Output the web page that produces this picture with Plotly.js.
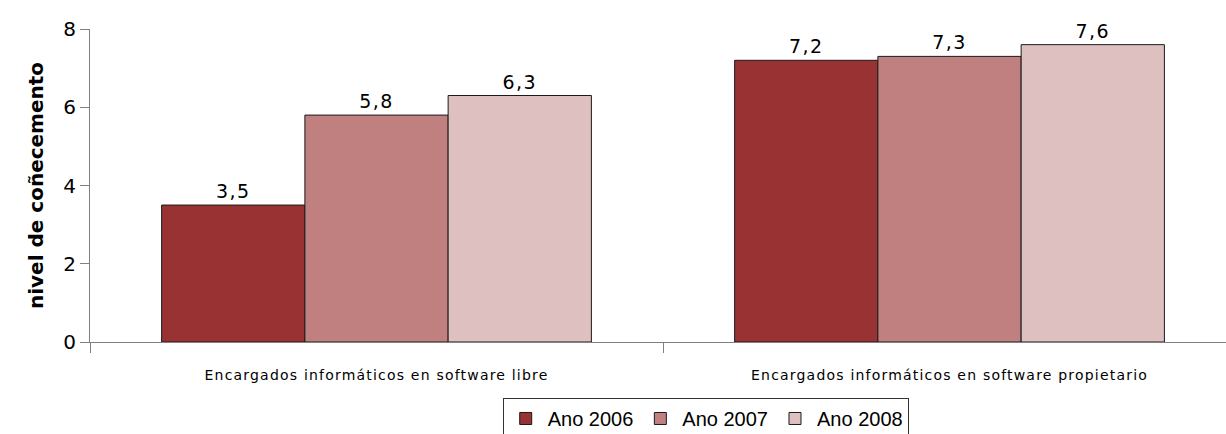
<!DOCTYPE html>
<html>
<head>
<meta charset="utf-8">
<script src="https://cdn.plot.ly/plotly-3.0.1.min.js"></script>
<style>
  body { margin: 0; background: #fff; }
  #chart { width: 1226px; height: 434px; }
  /* the source chart draws its labels with loose letter spacing */
  #chart .xtick text { letter-spacing: 1.2px; }
  #chart .bartext { letter-spacing: 1.5px; }
</style>
</head>
<body>
<div id="chart"></div>
<script>
var categories = ['Encargados informáticos en software libre', 'Encargados informáticos en software propietario'];
var seriesNames = ['Ano 2006', 'Ano 2007', 'Ano 2008'];
var values2006 = [3.5, 7.2];
var values2007 = [5.8, 7.3];
var values2008 = [6.3, 7.6];
var colors = ['#993333', '#C08080', '#DFC0C1'];

var seriesValues = [values2006, values2007, values2008];
var traces = [];
for (var i = 0; i < seriesNames.length; i++) {
    traces.push({
        type: 'bar',
        x: categories,
        y: seriesValues[i],
        name: seriesNames[i],
        marker: { color: colors[i], line: { color: '#1a1a1a', width: 1 } },
        texttemplate: '%{y:.1f}',
        textposition: 'outside',
        cliponaxis: false,
        textfont: { family: 'DejaVu Sans', size: 19, color: '#000' }
    });
}

var layout = {
    width: 1226,
    height: 434,
    separators: ',.',
    barmode: 'group',
    bargap: 0.25,
    bargroupgap: 0,
    margin: { l: 90, r: 0, t: 29, b: 92 },
    paper_bgcolor: '#fff',
    plot_bgcolor: '#fff',
    font: { family: 'DejaVu Sans', color: '#000' },
    showlegend: true,
    legend: {
        orientation: 'h',
        x: 0.542, xanchor: 'center',
        yref: 'container',
        y: 0.083, yanchor: 'top',
        bordercolor: '#333',
        borderwidth: 1,
        font: { family: 'Liberation Sans', size: 20, color: '#000' },
        itemwidth: 34,
        traceorder: 'normal'
    },
    xaxis: {
        range: [-0.5, 1.4825],
        showline: true,
        linecolor: '#808080',
        linewidth: 1,
        ticks: 'outside',
        tickson: 'boundaries',
        ticklen: 10,
        tickcolor: '#808080',
        ticklabelstandoff: 20,
        tickfont: { family: 'DejaVu Sans', size: 14, color: '#000' },
        showgrid: false,
        zeroline: false,
        automargin: false
    },
    yaxis: {
        range: [0, 8],
        dtick: 2,
        showline: true,
        linecolor: '#808080',
        linewidth: 1,
        ticks: 'outside',
        ticklen: 9,
        tickcolor: '#808080',
        tickfont: { family: 'DejaVu Sans', size: 20, color: '#000' },
        showgrid: false,
        zeroline: false,
        automargin: false,
        title: {
            text: '<b>nivel de coñecemento</b>',
            font: { family: 'DejaVu Sans', size: 20, color: '#000' },
            standoff: 14
        }
    }
};

Plotly.newPlot('chart', traces, layout, { displayModeBar: false, staticPlot: true });
</script>
</body>
</html>
